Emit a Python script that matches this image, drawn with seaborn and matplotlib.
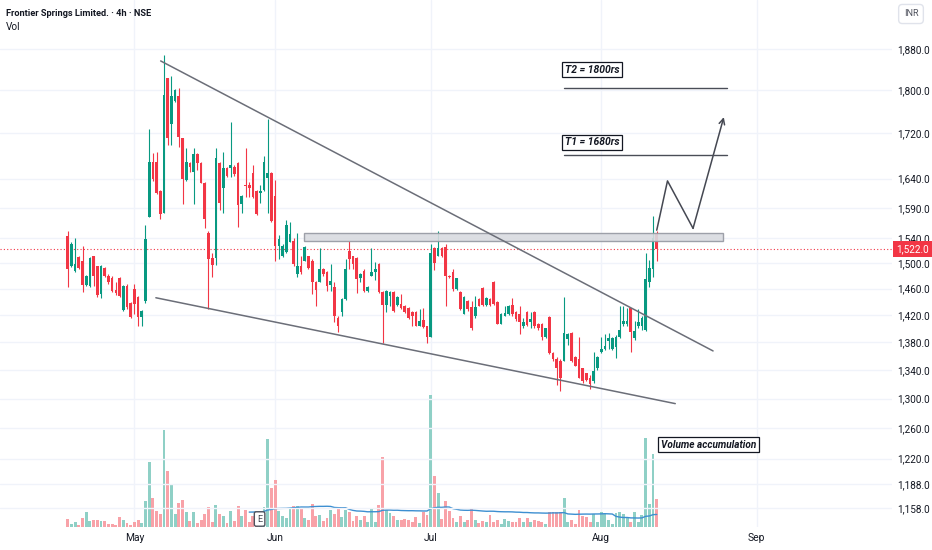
import numpy as np
import pandas as pd
import seaborn as sns
import matplotlib.pyplot as plt
from matplotlib.patches import Rectangle
from matplotlib.ticker import FixedLocator, NullLocator, FuncFormatter

sns.set_theme(style="white")
plt.rcParams['font.family'] = ['Liberation Sans Narrow', 'Roboto', 'DejaVu Sans']

# --- 4h candles, Frontier Springs (NSE) ------------------------------------
open_ = [1543, 1495, 1487, 1509, 1503, 1466, 1464, 1511, 1495, 1452,
         1492, 1480, 1477, 1458, 1477, 1427, 1464, 1438, 1460, 1447,
         1417, 1441, 1574, 1669, 1669, 1618, 1582, 1824, 1737, 1781,
         1790, 1711, 1638, 1667, 1651, 1683, 1667, 1632, 1549, 1508,
         1508, 1667, 1623, 1658, 1658, 1660, 1667, 1597, 1629, 1629,
         1650, 1618, 1615, 1620, 1641, 1650, 1610, 1528, 1511, 1517,
         1533, 1535, 1482, 1495, 1504, 1511, 1504, 1470, 1470, 1490,
         1486, 1466, 1462, 1416, 1425, 1444, 1519, 1511, 1508, 1476,
         1488, 1457, 1480, 1486, 1498, 1455, 1435, 1449, 1455, 1435,
         1437, 1434, 1431, 1425, 1425, 1404, 1412, 1403, 1388, 1524,
         1511, 1524, 1525, 1480, 1486, 1460, 1455, 1422, 1441, 1432,
         1418, 1444, 1461, 1435, 1444, 1470, 1440, 1407, 1418, 1421,
         1435, 1425, 1421, 1403, 1425, 1410, 1425, 1407, 1407, 1388,
         1417, 1364, 1356, 1352, 1352, 1385, 1393, 1358, 1356, 1342,
         1335, 1328, 1324, 1343, 1365, 1370, 1382, 1370, 1373, 1388,
         1406, 1406, 1431, 1386, 1403, 1403, 1397, 1470, 1490, 1546]
high = [1551, 1533, 1540, 1511, 1528, 1481, 1509, 1512, 1496, 1497,
        1493, 1483, 1480, 1470, 1478, 1466, 1467, 1440, 1467, 1448,
        1427, 1561, 1728, 1685, 1687, 1620, 1868, 1824, 1828, 1802,
        1804, 1712, 1694, 1669, 1694, 1685, 1669, 1634, 1551, 1516,
        1694, 1669, 1687, 1660, 1741, 1664, 1669, 1611, 1694, 1634,
        1664, 1620, 1629, 1679, 1747, 1652, 1638, 1545, 1530, 1569,
        1566, 1541, 1549, 1511, 1527, 1512, 1506, 1472, 1524, 1492,
        1487, 1498, 1470, 1418, 1446, 1506, 1535, 1512, 1509, 1484,
        1490, 1464, 1524, 1501, 1500, 1456, 1458, 1457, 1457, 1449,
        1452, 1435, 1432, 1426, 1426, 1429, 1431, 1404, 1530, 1525,
        1551, 1525, 1530, 1481, 1490, 1477, 1456, 1449, 1443, 1441,
        1449, 1446, 1463, 1447, 1446, 1472, 1441, 1423, 1434, 1435,
        1446, 1426, 1434, 1415, 1426, 1425, 1426, 1408, 1408, 1401,
        1418, 1366, 1358, 1356, 1447, 1393, 1394, 1360, 1388, 1343,
        1336, 1332, 1365, 1360, 1388, 1391, 1393, 1388, 1390, 1434,
        1434, 1431, 1431, 1411, 1429, 1418, 1516, 1505, 1576, 1552]
low = [1462, 1493, 1486, 1490, 1455, 1464, 1462, 1464, 1447, 1446,
       1478, 1467, 1455, 1450, 1447, 1426, 1429, 1415, 1422, 1403,
       1404, 1438, 1574, 1636, 1614, 1572, 1582, 1700, 1700, 1779,
       1696, 1597, 1636, 1651, 1597, 1655, 1632, 1556, 1429, 1478,
       1497, 1587, 1582, 1642, 1642, 1645, 1558, 1582, 1608, 1608,
       1606, 1578, 1599, 1618, 1582, 1566, 1503, 1506, 1509, 1516,
       1533, 1496, 1478, 1482, 1503, 1490, 1452, 1434, 1470, 1480,
       1457, 1457, 1410, 1395, 1418, 1443, 1490, 1490, 1453, 1470,
       1455, 1455, 1480, 1473, 1453, 1379, 1424, 1434, 1424, 1434,
       1429, 1423, 1414, 1404, 1403, 1403, 1400, 1379, 1387, 1489,
       1511, 1510, 1434, 1476, 1457, 1458, 1428, 1421, 1426, 1398,
       1416, 1433, 1434, 1434, 1434, 1435, 1406, 1406, 1418, 1420,
       1418, 1411, 1392, 1400, 1403, 1400, 1401, 1398, 1383, 1386,
       1363, 1352, 1319, 1310, 1352, 1375, 1351, 1345, 1328, 1322,
       1324, 1313, 1322, 1340, 1364, 1368, 1370, 1368, 1357, 1386,
       1404, 1404, 1365, 1383, 1401, 1398, 1396, 1462, 1478, 1503]
close = [1490, 1530, 1498, 1492, 1466, 1480, 1508, 1480, 1450, 1495,
         1480, 1470, 1457, 1453, 1449, 1464, 1432, 1417, 1437, 1417,
         1426, 1538, 1669, 1640, 1616, 1580, 1792, 1711, 1789, 1800,
         1713, 1640, 1669, 1661, 1683, 1667, 1632, 1572, 1506, 1497,
         1676, 1599, 1658, 1644, 1664, 1648, 1595, 1610, 1627, 1623,
         1608, 1580, 1618, 1669, 1650, 1568, 1527, 1538, 1528, 1561,
         1546, 1498, 1495, 1486, 1525, 1492, 1470, 1458, 1490, 1482,
         1464, 1472, 1418, 1404, 1444, 1490, 1506, 1498, 1475, 1482,
         1457, 1463, 1486, 1490, 1455, 1435, 1457, 1455, 1426, 1447,
         1431, 1425, 1416, 1419, 1404, 1411, 1402, 1388, 1516, 1500,
         1524, 1511, 1480, 1478, 1460, 1476, 1429, 1447, 1429, 1401,
         1432, 1434, 1435, 1446, 1435, 1437, 1407, 1421, 1423, 1434,
         1421, 1414, 1409, 1409, 1405, 1414, 1403, 1401, 1388, 1400,
         1364, 1356, 1342, 1329, 1393, 1391, 1352, 1346, 1329, 1324,
         1325, 1320, 1339, 1358, 1370, 1374, 1386, 1386, 1388, 1397,
         1411, 1411, 1394, 1396, 1409, 1416, 1475, 1492, 1541, 1522]
# volume, relative units (bar heights)
volume = [8.3, 3.3, 5.3, 2, 9.3, 14.7, 6, 7.3, 6.7, 6,
          6, 3.3, 3.3, 2, 10, 6.7, 4, 2, 5.3, 6.7,
          4, 25.7, 65, 29, 16.3, 13.3, 97.3, 56.3, 42.3, 13.3,
          24, 27.3, 14.7, 6, 14.7, 4, 7.3, 13.3, 20, 5.3,
          22, 13.3, 11.3, 4, 16.3, 6, 21.3, 11.3, 17.3, 5.3,
          10.7, 9.3, 8, 20.3, 88, 38.7, 47.3, 16.3, 10.7, 8.7,
          19.3, 20.7, 21.3, 18, 8.7, 6.7, 23.3, 10.7, 12, 6,
          9.3, 16.7, 13.3, 19.3, 10, 16.7, 15.3, 6, 11.3, 7.3,
          11.3, 5.3, 18.7, 5.3, 22, 69.7, 17.3, 14, 10.7, 6.7,
          7.3, 8, 6.7, 4.7, 10, 4, 14.7, 12, 131.7, 51.3,
          34, 8, 26, 16.3, 9.3, 4.7, 10.7, 5.3, 7.3, 18,
          7.3, 4, 6, 5.3, 12.3, 4.7, 7.3, 2.7, 8, 5.7,
          4.7, 4.7, 9.3, 5.3, 9.3, 4.7, 7.3, 6, 4.7, 3,
          14.7, 14.7, 14.7, 14.7, 28.7, 5.3, 7.3, 3.3, 17.3, 11.3,
          10, 5.3, 13.3, 5.3, 14.7, 12.7, 7.3, 3.3, 14, 15.3,
          12.7, 10, 4.7, 14.7, 4.7, 12, 89, 22.7, 73, 28]

month_labels = ['May', 'Jun', 'Jul', 'Aug', 'Sep']
month_bars = [18, 56, 98, 144, 186]
price_ticks = [1158, 1188, 1220, 1260, 1300, 1340, 1380, 1420, 1460, 1500,
               1540, 1590, 1640, 1720, 1800, 1880]
last_price = 1522.0

# drawings (bar index, price)
upper_trend = ([25.1, 174.2], [1857, 1367])
lower_trend = ([23.8, 164.0], [1446, 1293])
zone = (63.9, 176.9, 1535.6, 1547.6)
zigzag_x = [159.0, 161.9, 168.8, 177.1]
zigzag_y = [1553, 1636, 1556, 1750]
targets = [1805, 1682]
target_labels = ['T2 = 1800rs', 'T1 = 1680rs']
target_span = (133.9, 178.0)

df = pd.DataFrame({'o': open_, 'h': high, 'l': low, 'c': close, 'vol': volume})
df['bar'] = np.arange(len(df))
df['up'] = df['c'] >= df['o']
df['vol_ma'] = df['vol'].rolling(50).mean()

UP, DOWN = '#089981', '#f23645'
VUP, VDOWN = '#8fd0c6', '#f8a2a8'
GRID = '#f0f3fa'
TXT = '#131722'

fig = plt.figure(figsize=(9.32, 5.5), dpi=100)
ax = fig.add_axes([0, 23 / 550, 892 / 932, 527 / 550])
ax2 = ax.twinx()
ax.set_zorder(2)
ax.patch.set_visible(False)
ax2.set_zorder(1)

# volume pane
vcol = np.where(df['up'], VUP, VDOWN)
ax2.bar(df['bar'], df['vol'], width=0.78, color=vcol, linewidth=0)
ma = df.dropna(subset=['vol_ma'])
sns.lineplot(data=ma, x='bar', y='vol_ma', ax=ax2, color='#3d8fd1', linewidth=1)
ax2.set_ylim(0, 527)
ax2.set_yticks([])
ax2.set_ylabel('')
for s in ax2.spines.values():
    s.set_visible(False)

# grid
for b in month_bars:
    ax2.axvline(b, color=GRID, lw=1, zorder=0)
for p in price_ticks:
    ax.axhline(p, color=GRID, lw=1, zorder=0)

# candles
ccol = np.where(df['up'], UP, DOWN)
ax.vlines(df['bar'], df['l'], df['h'], colors=ccol, lw=0.8, zorder=2)
body_lo = np.minimum(df['o'], df['c'])
body_h = np.maximum(np.abs(df['c'] - df['o']), 1.0)
ax.bar(df['bar'], body_h, bottom=body_lo, width=0.72, color=ccol, linewidth=0, zorder=2)

ax.set_yscale('log')
ax.set_ylim(1135, 1980.5)
ax.set_xlim(-18.27, 222.5)
ax.yaxis.set_major_locator(FixedLocator(price_ticks))
ax.yaxis.set_minor_locator(NullLocator())
ax.yaxis.set_major_formatter(FuncFormatter(lambda v, _: f'{v:,.1f}'))
ax.yaxis.set_minor_formatter(FuncFormatter(lambda v, _: ''))
ax.yaxis.tick_right()
ax.tick_params(axis='y', length=0, pad=3.6, labelsize=7.2, labelcolor=TXT)
ax.set_xticks(month_bars, month_labels)
ax.tick_params(axis='x', length=0, pad=4, labelsize=7.4, labelcolor=TXT)
for s in ax.spines.values():
    s.set_visible(False)

# last price
ax.axhline(last_price, color=DOWN, lw=0.8, ls=(0, (1, 2)), zorder=1)
ax.text(896 / 892, last_price, f'{last_price:,.1f}', transform=ax.get_yaxis_transform(),
        ha='left', va='center', fontsize=7.2, color='white',
        bbox=dict(boxstyle='square,pad=0.3', fc=DOWN, ec='none'))

# drawings
LINE = '#6b6e78'
ax.plot(*upper_trend, color=LINE, lw=1.1, zorder=4)
ax.plot(*lower_trend, color=LINE, lw=1.1, zorder=4)
x0, x1, y0, y1 = zone
ax.add_patch(Rectangle((x0, y0), x1 - x0, y1 - y0, fc='#d9dbe0', ec='#9598a1',
                       lw=1, alpha=0.9, zorder=3))
ax.plot(zigzag_x[:3], zigzag_y[:3], color='#454852', lw=1.1, zorder=4)
ax.annotate('', xy=(zigzag_x[3], zigzag_y[3]), xytext=(zigzag_x[2], zigzag_y[2]),
            arrowprops=dict(arrowstyle='->', color='#454852', lw=1.1,
                            shrinkA=0, shrinkB=0, mutation_scale=10), zorder=4)
label_y = [1840, 1704]
for t, lab, ly in zip(targets, target_labels, label_y):
    ax.plot(target_span, [t, t], color='#4a4d57', lw=1, zorder=4)
    ax.text(141.6, ly, lab, ha='center', va='center', fontsize=7.5,
            style='italic', weight='bold', color=TXT, zorder=5,
            bbox=dict(boxstyle='square,pad=0.25', fc='white', ec=TXT, lw=0.9))
ax.text(173.0, 1238, 'Volume accumulation', ha='center', va='center', fontsize=7.2,
        style='italic', weight='bold', color=TXT, zorder=5,
        bbox=dict(boxstyle='square,pad=0.25', fc='white', ec=TXT, lw=0.9))

# earnings marker
ax.text(51.8, (527 - 519) / 527, 'E', transform=ax.get_xaxis_transform(),
        ha='center', va='center', fontsize=6.5, color='#434651', zorder=5,
        bbox=dict(boxstyle='round,pad=0.3,rounding_size=0.2', fc='white', ec='#50535e', lw=1))

# header
fig.text(6 / 932, 1 - 14 / 550, 'Frontier Springs Limited. · 4h · NSE', fontsize=6.7,
         weight='bold', color=TXT, va='center')
fig.text(6 / 932, 1 - 26.5 / 550, 'Vol', fontsize=7.2, color=TXT, va='center')
fig.text(911 / 932, 1 - 14 / 550, 'INR', fontsize=6.6, color='#50535e', ha='center', va='center',
         bbox=dict(boxstyle='round,pad=0.55,rounding_size=0.4', fc='white', ec='#e0e3eb', lw=1))

fig.savefig('out.png', dpi=100)
